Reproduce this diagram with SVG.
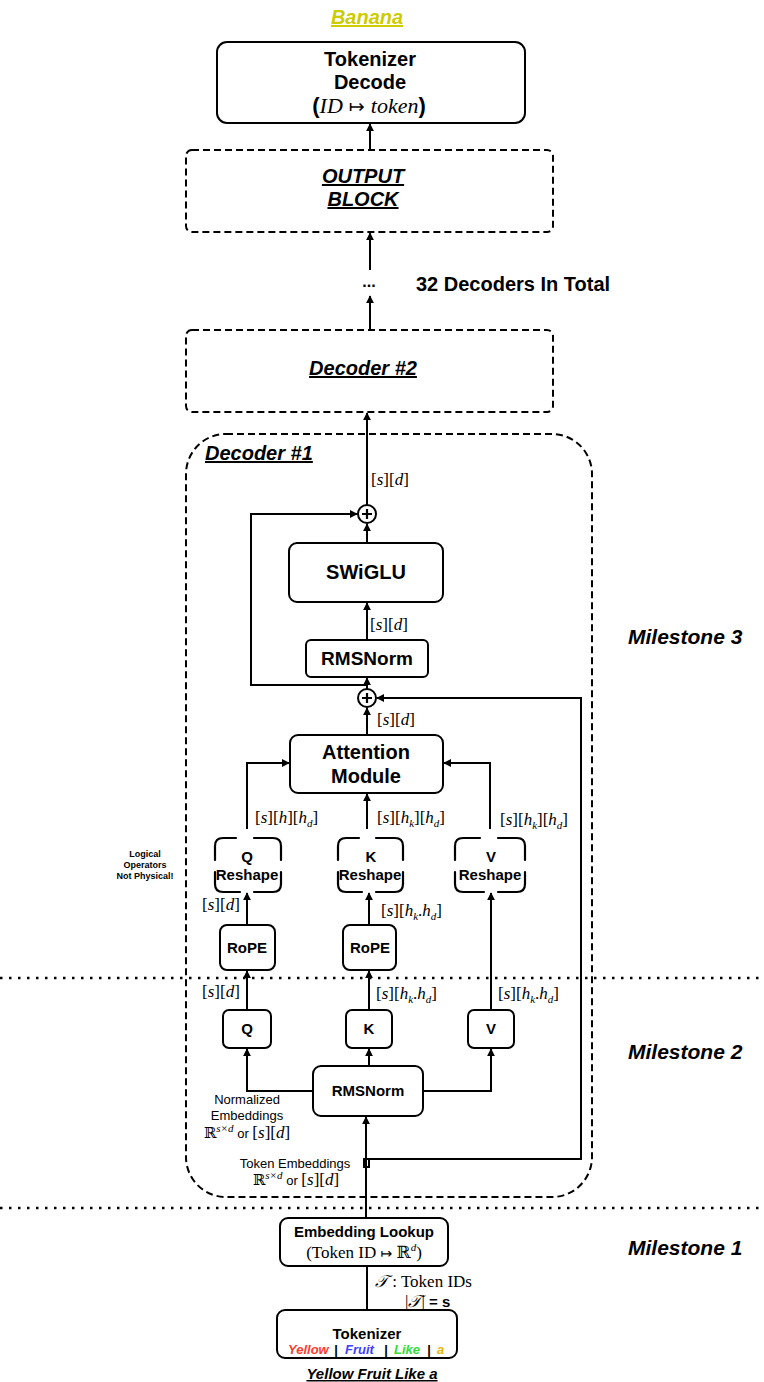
<svg xmlns="http://www.w3.org/2000/svg" width="764" height="1382" viewBox="0 0 764 1382">
  <style>
    .box{fill:#fff;stroke:#000;stroke-width:2}
    .dash{fill:none;stroke:#000;stroke-width:2;stroke-dasharray:7 4}
    .ln{fill:none;stroke:#000;stroke-width:2}
    .rs{fill:none;stroke:#000;stroke-width:2.2;stroke-linecap:round}
    .dot{fill:none;stroke:#000;stroke-width:2.5;stroke-dasharray:2.5 6.5}
    .t{font-family:"Liberation Sans",Arial,sans-serif;font-weight:bold;fill:#000;text-anchor:middle}
    .bi{font-family:"Liberation Sans",Arial,sans-serif;font-weight:bold;font-style:italic;text-decoration:underline;fill:#000;text-anchor:middle}
    .ms{font-family:"Liberation Sans",Arial,sans-serif;font-weight:bold;font-style:italic;font-size:21px;fill:#000}
    .n{font-family:"Liberation Sans",Arial,sans-serif;font-size:13px;fill:#000;text-anchor:middle}
    .m{font-family:"Liberation Serif","DejaVu Serif",serif;font-size:17px;fill:#000}
    .i{font-style:italic}
    .sb{font-size:11px;font-style:italic}
    .w{font-family:"Liberation Sans",Arial,sans-serif;font-weight:bold;font-style:italic;font-size:13px}
  </style>
  <defs>
    <marker id="ah" viewBox="0 0 10 10" refX="9" refY="5" markerWidth="8" markerHeight="8" markerUnits="userSpaceOnUse" orient="auto">
      <path d="M0,0 L10,5 L0,10 z" fill="#000"/>
    </marker>
  </defs>

  <!-- milestone separators -->
  <line class="dot" x1="0" y1="978" x2="764" y2="978"/>
  <line class="dot" x1="0" y1="1208" x2="764" y2="1208"/>
  <text class="ms" x="628" y="644">Milestone 3</text>
  <text class="ms" x="628" y="1059">Milestone 2</text>
  <text class="ms" x="628" y="1255">Milestone 1</text>

  <!-- output word -->
  <text class="bi" x="367" y="24" font-size="20" style="fill:#cccc00">Banana</text>

  <g id="tokenizer-decode">
    <rect class="box" x="217" y="42" width="308" height="81" rx="10"/>
    <text class="t" x="370" y="66" font-size="20">Tokenizer</text>
    <text class="t" x="370" y="89" font-size="20">Decode</text>
    <text x="369" y="113" text-anchor="middle" font-size="22"><tspan font-family="Liberation Sans,sans-serif" font-weight="bold">(</tspan><tspan font-family="Liberation Serif,serif" font-style="italic">ID</tspan><tspan font-family="DejaVu Sans,sans-serif" font-size="19"> ↦ </tspan><tspan font-family="Liberation Serif,serif" font-style="italic">token</tspan><tspan font-family="Liberation Sans,sans-serif" font-weight="bold">)</tspan></text>
  </g>

  <g id="output-block">
    <rect class="dash" x="186" y="150" width="367" height="82" rx="6"/>
    <text class="bi" x="363" y="183" font-size="20">OUTPUT</text>
    <text class="bi" x="363" y="206" font-size="20">BLOCK</text>
  </g>

  <g id="ellipsis">
    <text class="t" x="369" y="287" font-size="16">...</text>
    <text class="t" x="416" y="291" font-size="20" style="text-anchor:start">32 Decoders In Total</text>
  </g>

  <g id="decoder-2">
    <rect class="dash" x="186" y="330" width="367" height="82" rx="6"/>
    <text class="bi" x="363" y="375" font-size="20">Decoder #2</text>
  </g>

  <g id="decoder-1">
    <rect class="dash" x="186" y="434" width="406" height="763" rx="40"/>
    <text class="bi" x="205" y="460" font-size="20" style="text-anchor:start">Decoder #1</text>
  </g>

  <g id="add-ffn">
    <circle class="box" cx="367" cy="514" r="9"/>
    <path d="M367,509 V519 M362,514 H372" stroke="#000" stroke-width="2.2"/>
  </g>
  <g id="swiglu">
    <rect class="box" x="289" y="543" width="154" height="59" rx="8"/>
    <text class="t" x="366" y="579" font-size="20">SWiGLU</text>
  </g>
  <g id="rmsnorm-ffn">
    <rect class="box" x="306" y="640" width="122" height="37" rx="5"/>
    <text class="t" x="367" y="665" font-size="19">RMSNorm</text>
  </g>
  <g id="add-attn">
    <circle class="box" cx="367" cy="698" r="9"/>
    <path d="M367,693 V703 M362,698 H372" stroke="#000" stroke-width="2.2"/>
  </g>
  <g id="attention">
    <rect class="box" x="290" y="735" width="153" height="58" rx="8"/>
    <text class="t" x="366" y="759" font-size="20">Attention</text>
    <text class="t" x="366" y="783" font-size="20">Module</text>
  </g>

  <!-- reshape nodes: corner brackets only (logical ops) -->
  <g id="q-reshape">
    <path class="rs" d="M236,838 H223 Q215,838 215,846 V860 M215,872 V884 Q215,892 223,892 H240 M254,892 H273 Q281,892 281,884 V872 M281,860 V846 Q281,838 273,838 H254"/>
    <text class="t" x="247" y="862" font-size="15">Q</text>
    <text class="t" x="247" y="880" font-size="15">Reshape</text>
  </g>
  <g id="k-reshape">
    <path class="rs" d="M359,838 H346 Q338,838 338,846 V860 M338,872 V884 Q338,892 346,892 H362 M376,892 H395 Q403,892 403,884 V872 M403,860 V846 Q403,838 395,838 H376"/>
    <text class="t" x="371" y="862" font-size="15">K</text>
    <text class="t" x="370" y="880" font-size="15">Reshape</text>
  </g>
  <g id="v-reshape">
    <path class="rs" d="M480,838 H463 Q455,838 455,846 V860 M455,872 V884 Q455,892 463,892 H484 M498,892 H517 Q525,892 525,884 V872 M525,860 V846 Q525,838 517,838 H498"/>
    <text class="t" x="491" y="862" font-size="15">V</text>
    <text class="t" x="490" y="880" font-size="15">Reshape</text>
  </g>
  <g id="note">
    <text class="t" x="145" y="857" font-size="9">Logical</text>
    <text class="t" x="145" y="868" font-size="9">Operators</text>
    <text class="t" x="145" y="879" font-size="9">Not Physical!</text>
  </g>

  <g id="q-rope">
    <rect class="box" x="220" y="925" width="55" height="45" rx="7"/>
    <text class="t" x="247" y="953" font-size="15">RoPE</text>
  </g>
  <g id="k-rope">
    <rect class="box" x="343" y="925" width="53" height="45" rx="7"/>
    <text class="t" x="370" y="953" font-size="15">RoPE</text>
  </g>

  <g id="q-proj">
    <rect class="box" x="223" y="1010" width="48" height="38" rx="6"/>
    <text class="t" x="247" y="1034" font-size="15">Q</text>
  </g>
  <g id="k-proj">
    <rect class="box" x="346" y="1010" width="46" height="38" rx="6"/>
    <text class="t" x="369" y="1034" font-size="15">K</text>
  </g>
  <g id="v-proj">
    <rect class="box" x="468" y="1010" width="46" height="38" rx="6"/>
    <text class="t" x="491" y="1034" font-size="15">V</text>
  </g>

  <g id="rmsnorm-attn">
    <rect class="box" x="313" y="1066" width="110" height="50" rx="8"/>
    <text class="t" x="368" y="1096" font-size="15">RMSNorm</text>
  </g>

  <g id="embedding-lookup">
    <rect class="box" x="280" y="1218" width="168" height="48" rx="8"/>
    <text class="t" x="364" y="1237" font-size="15">Embedding Lookup</text>
    <text class="m" x="364" y="1258" text-anchor="middle" font-size="17">(Token ID <tspan font-family="DejaVu Sans,sans-serif" font-size="14">↦</tspan> <tspan font-family="DejaVu Serif,serif">ℝ</tspan><tspan class="sb" dy="-7">d</tspan><tspan dy="7">)</tspan></text>
  </g>

  <g id="tokenizer">
    <rect class="box" x="277" y="1310" width="180" height="48" rx="8"/>
    <text class="t" x="367" y="1339" font-size="15">Tokenizer</text>
    <text class="w" x="288" y="1354" fill="#ff3b30">Yellow</text>
    <text class="w" x="334" y="1354" fill="#000">|</text>
    <text class="w" x="345" y="1354" fill="#4040ff">Fruit</text>
    <text class="w" x="384" y="1354" fill="#000">|</text>
    <text class="w" x="394" y="1354" fill="#33dd33">Like</text>
    <text class="w" x="427" y="1354" fill="#000">|</text>
    <text class="w" x="437" y="1354" fill="#e6b400">a</text>
  </g>
  <text class="bi" x="372" y="1379" font-size="15">Yellow Fruit Like a</text>

  <!-- connectors -->
  <g id="connectors">
    <path class="ln" d="M370,150 V124" marker-end="url(#ah)"/>
    <path class="ln" d="M370,270 V233" marker-end="url(#ah)"/>
    <path class="ln" d="M370,331 V296" marker-end="url(#ah)"/>
    <path class="ln" d="M367,505 V413" marker-end="url(#ah)"/>
    <path class="ln" d="M367,543 V524" marker-end="url(#ah)"/>
    <path class="ln" d="M367,685 H251 V514 H357" marker-end="url(#ah)"/>
    <path class="ln" d="M367,640 V603" marker-end="url(#ah)"/>
    <path class="ln" d="M367,689 V678" marker-end="url(#ah)"/>
    <path class="ln" d="M367,735 V708" marker-end="url(#ah)"/>
    <path class="ln" d="M366,1159 H581 V698 H377" marker-end="url(#ah)"/>
    <path class="ln" d="M247,829 V763 H289" marker-end="url(#ah)"/>
    <path class="ln" d="M367,829 V794" marker-end="url(#ah)"/>
    <path class="ln" d="M490,829 V763 H444" marker-end="url(#ah)"/>
    <path class="ln" d="M247,925 V893" marker-end="url(#ah)"/>
    <path class="ln" d="M369,925 V893" marker-end="url(#ah)"/>
    <path class="ln" d="M491,1010 V893" marker-end="url(#ah)"/>
    <path class="ln" d="M247,1010 V971" marker-end="url(#ah)"/>
    <path class="ln" d="M369,1010 V971" marker-end="url(#ah)"/>
    <path class="ln" d="M313,1091 H247 V1049" marker-end="url(#ah)"/>
    <path class="ln" d="M423,1091 H491 V1049" marker-end="url(#ah)"/>
    <path class="ln" d="M369,1066 V1049" marker-end="url(#ah)"/>
    <path class="ln" d="M366,1218 V1117" stroke-width="3" marker-end="url(#ah)"/>
    <rect class="ln" x="364" y="1159" width="5" height="8"/>
    <path class="ln" d="M367,1310 V1267" stroke-width="2.5"/>
  </g>

  <!-- tensor shape labels -->
  <g id="labels">
    <text class="m" x="371" y="485">[<tspan class="i">s</tspan>][<tspan class="i">d</tspan>]</text>
    <text class="m" x="370" y="630">[<tspan class="i">s</tspan>][<tspan class="i">d</tspan>]</text>
    <text class="m" x="377" y="725">[<tspan class="i">s</tspan>][<tspan class="i">d</tspan>]</text>
    <text class="m" x="255" y="823">[<tspan class="i">s</tspan>][<tspan class="i">h</tspan>][<tspan class="i">h</tspan><tspan class="sb" dy="4">d</tspan><tspan dy="-4">]</tspan></text>
    <text class="m" x="377" y="823">[<tspan class="i">s</tspan>][<tspan class="i">h</tspan><tspan class="sb" dy="4">k</tspan><tspan dy="-4">][</tspan><tspan class="i">h</tspan><tspan class="sb" dy="4">d</tspan><tspan dy="-4">]</tspan></text>
    <text class="m" x="500" y="825">[<tspan class="i">s</tspan>][<tspan class="i">h</tspan><tspan class="sb" dy="4">k</tspan><tspan dy="-4">][</tspan><tspan class="i">h</tspan><tspan class="sb" dy="4">d</tspan><tspan dy="-4">]</tspan></text>
    <text class="m" x="202" y="910">[<tspan class="i">s</tspan>][<tspan class="i">d</tspan>]</text>
    <text class="m" x="381" y="916">[<tspan class="i">s</tspan>][<tspan class="i">h</tspan><tspan class="sb" dy="4">k</tspan><tspan dy="-4">.</tspan><tspan class="i">h</tspan><tspan class="sb" dy="4">d</tspan><tspan dy="-4">]</tspan></text>
    <text class="m" x="202" y="997">[<tspan class="i">s</tspan>][<tspan class="i">d</tspan>]</text>
    <text class="m" x="376" y="999">[<tspan class="i">s</tspan>][<tspan class="i">h</tspan><tspan class="sb" dy="4">k</tspan><tspan dy="-4">.</tspan><tspan class="i">h</tspan><tspan class="sb" dy="4">d</tspan><tspan dy="-4">]</tspan></text>
    <text class="m" x="498" y="999">[<tspan class="i">s</tspan>][<tspan class="i">h</tspan><tspan class="sb" dy="4">k</tspan><tspan dy="-4">.</tspan><tspan class="i">h</tspan><tspan class="sb" dy="4">d</tspan><tspan dy="-4">]</tspan></text>

    <text class="n" x="247" y="1104">Normalized</text>
    <text class="n" x="247" y="1120">Embeddings</text>
    <text class="m" x="247" y="1138" text-anchor="middle"><tspan font-family="DejaVu Serif,serif" font-size="15">ℝ</tspan><tspan class="sb" dy="-6">s×d</tspan><tspan dy="6" font-family="Liberation Sans,sans-serif" font-size="13"> or </tspan>[<tspan class="i">s</tspan>][<tspan class="i">d</tspan>]</text>

    <text class="n" x="295" y="1168">Token Embeddings</text>
    <text class="m" x="296" y="1185" text-anchor="middle"><tspan font-family="DejaVu Serif,serif" font-size="15">ℝ</tspan><tspan class="sb" dy="-6">s×d</tspan><tspan dy="6" font-family="Liberation Sans,sans-serif" font-size="13">  or </tspan>[<tspan class="i">s</tspan>][<tspan class="i">d</tspan>]</text>

    <text class="m" x="375" y="1287" font-size="17"><tspan class="i" font-family="DejaVu Serif,serif">𝒯</tspan> : Token IDs</text>
    <text class="m" x="405" y="1307" font-size="17">|<tspan class="i" font-family="DejaVu Serif,serif">𝒯</tspan>| <tspan font-family="Liberation Sans,sans-serif" font-weight="bold" font-size="15">= s</tspan></text>
  </g>
</svg>
